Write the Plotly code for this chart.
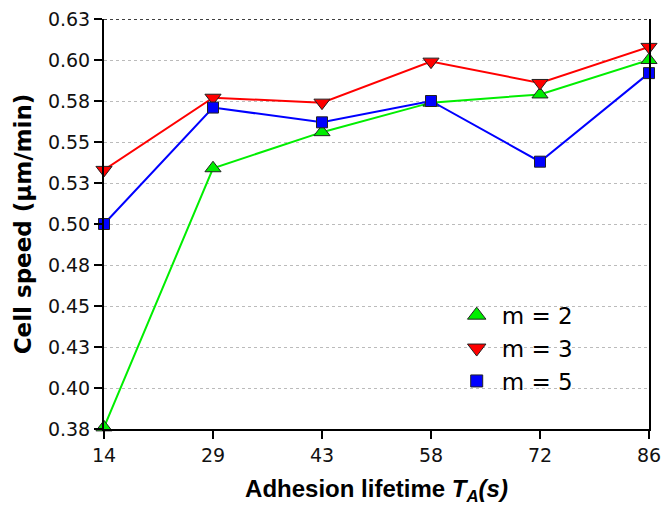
import plotly.graph_objects as go

lifetimes = ["14", "29", "43", "58", "72", "86"]
speed_m2 = [0.376, 0.534, 0.556, 0.574, 0.579, 0.600]
speed_m3 = [0.533, 0.577, 0.574, 0.599, 0.586, 0.608]
speed_m5 = [0.500, 0.571, 0.562, 0.575, 0.538, 0.592]
y_tickvals = [0.375, 0.400, 0.425, 0.450, 0.475, 0.500, 0.525, 0.550, 0.575, 0.600, 0.625]
y_ticktext = ["0.38", "0.40", "0.43", "0.45", "0.48", "0.50", "0.53", "0.55", "0.58", "0.60", "0.63"]

series = [
    ("m = 2", speed_m2, "#00ee00", "triangle-up", 14, 18),
    ("m = 3", speed_m3, "#ff0000", "triangle-down", 14, 18),
    ("m = 5", speed_m5, "#0000ff", "square", 11, 12),
]

fig = go.Figure()
for name, ys, color, sym, size, lsize in series:
    fig.add_trace(go.Scatter(
        x=lifetimes, y=ys, mode="lines+markers", name=name, showlegend=False,
        line=dict(color=color, width=2),
        marker=dict(symbol=sym, size=size, color=color, line=dict(color="#222222", width=1)),
        cliponaxis=False,
    ))
for name, ys, color, sym, size, lsize in series:
    fig.add_trace(go.Scatter(
        x=[None], y=[None], mode="markers", name=name, showlegend=True,
        marker=dict(symbol=sym, size=lsize, color=color, line=dict(color="#222222", width=1)),
    ))

fig.add_shape(type="line", xref="paper", yref="y", x0=0, x1=1, y0=0.625, y1=0.625,
              line=dict(color="black", width=1.5, dash="dot"))

tickfont = dict(family="DejaVu Sans", size=19, color="#111111")

fig.update_layout(
    width=665, height=506,
    margin=dict(l=104, r=16, t=19, b=77),
    paper_bgcolor="white", plot_bgcolor="white",
    font=dict(family="Arial, Liberation Sans, sans-serif", color="black"),
    legend=dict(x=0.638, y=0.33, xanchor="left", yanchor="top",
                font=dict(family="DejaVu Sans", size=23, color="black"),
                bgcolor="rgba(0,0,0,0)", itemsizing="trace", tracegroupgap=0,
                itemwidth=40),
    xaxis=dict(
        type="category", range=[0, 5], automargin=False,
        showline=True, linecolor="black", linewidth=2,
        ticks="outside", ticklen=8, tickwidth=2, tickcolor="black",
        tickfont=tickfont, showgrid=False, zeroline=False,
        title=dict(text="<b>Adhesion lifetime <i>T<sub>A</sub>(s)</i></b>",
                   font=dict(family="Arial, Liberation Sans, sans-serif", size=24),
                   standoff=16),
    ),
    yaxis=dict(
        range=[0.375, 0.625], tickvals=y_tickvals, ticktext=y_ticktext, automargin=False,
        showline=True, linecolor="black", linewidth=2, mirror=True,
        ticks="outside", ticklen=8, tickwidth=2, tickcolor="black",
        tickfont=tickfont,
        showgrid=True, gridcolor="#bbbbbb", griddash="dot", gridwidth=1,
        zeroline=False,
        title=dict(text="<b>Cell speed (µm/min)</b>",
                   font=dict(family="DejaVu Sans", size=23), standoff=10),
    ),
)

fig.write_html(
    "out.html",
    config={"displayModeBar": False},
    post_script="document.body.style.margin='0';document.documentElement.style.overflow='hidden';",
)
